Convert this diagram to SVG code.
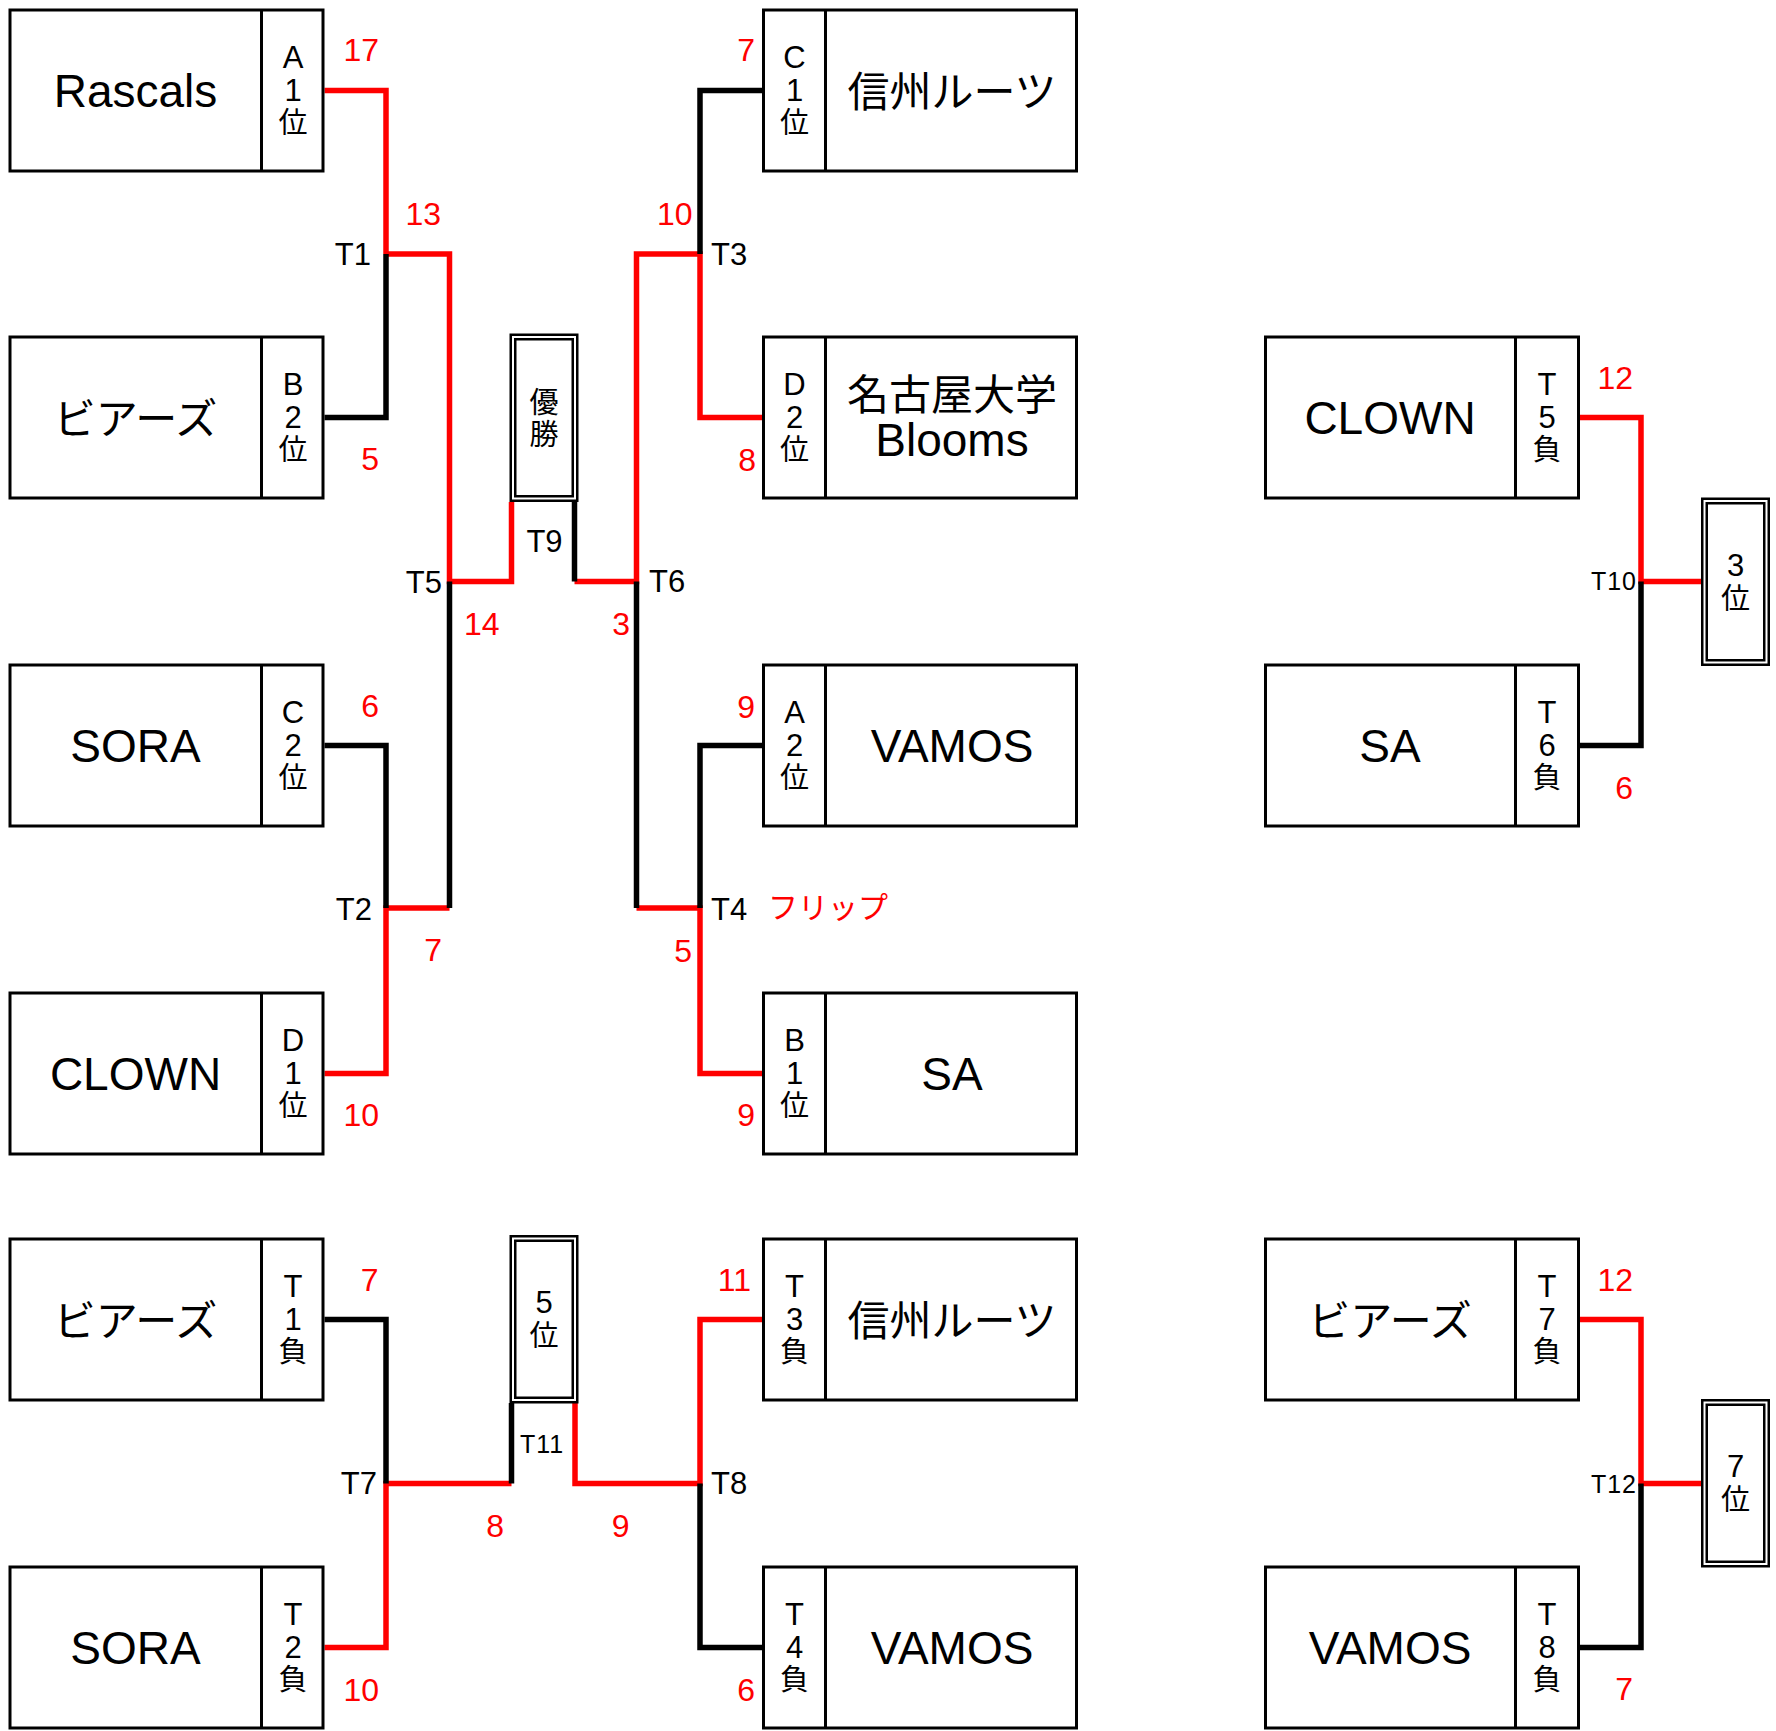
<svg xmlns="http://www.w3.org/2000/svg" width="1776" height="1731" viewBox="0 0 1776 1731">
<style>
text{font-family:"Liberation Sans","Noto Sans CJK JP",sans-serif;fill:#000}
.box{fill:#fff;stroke:#000;stroke-width:3}
.dv{stroke:#000;stroke-width:3}
.nm{font-size:46px;text-anchor:middle}
.jn{font-size:42px;text-anchor:middle;font-family:"Noto Sans CJK JP",sans-serif}
.sd{font-size:31px;text-anchor:middle}
.sj{font-size:29px;font-family:"Noto Sans CJK JP",sans-serif}
.sc{font-size:32px;fill:#f00}
.lb{font-size:31px}
.ls{font-size:25px;letter-spacing:1px}
.r{fill:none;stroke:#f00;stroke-width:5.5}
.k{fill:none;stroke:#000;stroke-width:5.5}
.fo{fill:#fff;stroke:#000;stroke-width:2.5}
.fi{fill:none;stroke:#000;stroke-width:2.5}
.e{text-anchor:end}
.m{text-anchor:middle}
</style>
<rect width="1776" height="1731" fill="#fff"/>
<g id="connectors">
<polyline class="r" points="324.5,90.5 386,90.5 386,254"/>
<polyline class="r" points="386,254 449.5,254 449.5,581.5 511.5,581.5 511.5,502"/>
<polyline class="r" points="324.5,1073.5 386,1073.5 386,908 449.5,908"/>
<polyline class="r" points="574.5,581.5 636.5,581.5 636.5,254 700,254 700,417.5 762,417.5"/>
<polyline class="r" points="636.5,908 700,908 700,1073.5 762,1073.5"/>
<polyline class="r" points="324.5,1647.5 386,1647.5 386,1483.5 511.5,1483.5"/>
<polyline class="r" points="575,1403 575,1483.5 700,1483.5 700,1319.5 762,1319.5"/>
<polyline class="r" points="1579,417.5 1641,417.5 1641,581.5 1701,581.5"/>
<polyline class="r" points="1579,1319.5 1641,1319.5 1641,1483.5 1701,1483.5"/>
<polyline class="k" points="324.5,417.5 386,417.5 386,254"/>
<polyline class="k" points="324.5,745.5 386,745.5 386,908"/>
<polyline class="k" points="449.5,908 449.5,581.5"/>
<polyline class="k" points="574.5,502 574.5,581.5"/>
<polyline class="k" points="636.5,581.5 636.5,908"/>
<polyline class="k" points="762,90.5 700,90.5 700,254"/>
<polyline class="k" points="762,745.5 700,745.5 700,908"/>
<polyline class="k" points="324.5,1319.5 386,1319.5 386,1483.5"/>
<polyline class="k" points="511.5,1483.5 511.5,1403"/>
<polyline class="k" points="700,1483.5 700,1647.5 762,1647.5"/>
<polyline class="k" points="1579,745.5 1641,745.5 1641,581.5"/>
<polyline class="k" points="1579,1647.5 1641,1647.5 1641,1483.5"/>
</g>
<g id="labels">
<text class="sc e" x="379" y="61">17</text>
<text class="sc e" x="441" y="224.5">13</text>
<text class="lb e" x="371" y="265">T1</text>
<text class="sc e" x="379" y="470">5</text>
<text class="lb e" x="442" y="593">T5</text>
<text class="sc" x="464" y="634.5">14</text>
<text class="lb m" x="544.5" y="552">T9</text>
<text class="sc e" x="630" y="634.5">3</text>
<text class="lb" x="649" y="592">T6</text>
<text class="sc e" x="379" y="716.5">6</text>
<text class="lb e" x="372" y="919.5">T2</text>
<text class="sc e" x="442" y="960.5">7</text>
<text class="sc e" x="379" y="1126">10</text>
<text class="sc e" x="755" y="61">7</text>
<text class="sc e" x="692.5" y="225">10</text>
<text class="lb" x="711" y="265">T3</text>
<text class="sc e" x="756" y="471">8</text>
<text class="sc e" x="755" y="717.5">9</text>
<text class="lb" x="711" y="920">T4</text>
<text x="768" y="918" style="font-size:30px;fill:#f00;font-family:'Noto Sans CJK JP',sans-serif">フリップ</text>
<text class="sc e" x="692" y="961.5">5</text>
<text class="sc e" x="755" y="1126">9</text>
<text class="sc e" x="378.5" y="1290.5">7</text>
<text class="lb e" x="377" y="1494">T7</text>
<text class="sc e" x="504" y="1536.5">8</text>
<text class="ls m" x="542" y="1452.5">T11</text>
<text class="sc e" x="629.5" y="1536.5">9</text>
<text class="lb" x="711" y="1494">T8</text>
<text class="sc e" x="751" y="1290.5">11</text>
<text class="sc e" x="379" y="1700.5">10</text>
<text class="sc e" x="755" y="1700.5">6</text>
<text class="sc e" x="1633" y="389">12</text>
<text class="ls e" x="1637" y="589.5">T10</text>
<text class="sc e" x="1633" y="799">6</text>
<text class="sc e" x="1633" y="1290.5">12</text>
<text class="ls e" x="1637" y="1492.5">T12</text>
<text class="sc e" x="1633" y="1700">7</text>
</g>
<g id="n-rascals" transform="translate(8.5,8.5)">
<rect class="box" x="1.5" y="1.5" width="313" height="161"/><line class="dv" x1="253" y1="1.5" x2="253" y2="162.5"/>
<text class="nm" x="127" y="98">Rascals</text>
<text class="sd" x="284.5" y="59.5">A<tspan x="284.5" y="92">1</tspan><tspan class="sj" x="284.5" y="124.5">位</tspan></text>
</g>
<g id="n-bears" transform="translate(8.5,335.5)">
<rect class="box" x="1.5" y="1.5" width="313" height="161"/><line class="dv" x1="253" y1="1.5" x2="253" y2="162.5"/>
<text class="jn" x="127" y="98">ビアーズ</text>
<text class="sd" x="284.5" y="59.5">B<tspan x="284.5" y="92">2</tspan><tspan class="sj" x="284.5" y="124.5">位</tspan></text>
</g>
<g id="n-sora" transform="translate(8.5,663.5)">
<rect class="box" x="1.5" y="1.5" width="313" height="161"/><line class="dv" x1="253" y1="1.5" x2="253" y2="162.5"/>
<text class="nm" x="127" y="98">SORA</text>
<text class="sd" x="284.5" y="59.5">C<tspan x="284.5" y="92">2</tspan><tspan class="sj" x="284.5" y="124.5">位</tspan></text>
</g>
<g id="n-clown" transform="translate(8.5,991.5)">
<rect class="box" x="1.5" y="1.5" width="313" height="161"/><line class="dv" x1="253" y1="1.5" x2="253" y2="162.5"/>
<text class="nm" x="127" y="98">CLOWN</text>
<text class="sd" x="284.5" y="59.5">D<tspan x="284.5" y="92">1</tspan><tspan class="sj" x="284.5" y="124.5">位</tspan></text>
</g>
<g id="n-bears-t1" transform="translate(8.5,1237.5)">
<rect class="box" x="1.5" y="1.5" width="313" height="161"/><line class="dv" x1="253" y1="1.5" x2="253" y2="162.5"/>
<text class="jn" x="127" y="98">ビアーズ</text>
<text class="sd" x="284.5" y="59.5">T<tspan x="284.5" y="92">1</tspan><tspan class="sj" x="284.5" y="124.5">負</tspan></text>
</g>
<g id="n-sora-t2" transform="translate(8.5,1565.5)">
<rect class="box" x="1.5" y="1.5" width="313" height="161"/><line class="dv" x1="253" y1="1.5" x2="253" y2="162.5"/>
<text class="nm" x="127" y="98">SORA</text>
<text class="sd" x="284.5" y="59.5">T<tspan x="284.5" y="92">2</tspan><tspan class="sj" x="284.5" y="124.5">負</tspan></text>
</g>
<g id="n-shinshu" transform="translate(762,8.5)">
<rect class="box" x="1.5" y="1.5" width="313" height="161"/><line class="dv" x1="63.5" y1="1.5" x2="63.5" y2="162.5"/>
<text class="jn" x="190" y="98">信州ルーツ</text>
<text class="sd" x="32.5" y="59.5">C<tspan x="32.5" y="92">1</tspan><tspan class="sj" x="32.5" y="124.5">位</tspan></text>
</g>
<g id="n-nagoya" transform="translate(762,335.5)">
<rect class="box" x="1.5" y="1.5" width="313" height="161"/><line class="dv" x1="63.5" y1="1.5" x2="63.5" y2="162.5"/>
<text class="jn" x="190" y="74.5">名古屋大学<tspan x="190" y="120.5" style="font-family:'Liberation Sans',sans-serif;font-size:46px">Blooms</tspan></text>
<text class="sd" x="32.5" y="59.5">D<tspan x="32.5" y="92">2</tspan><tspan class="sj" x="32.5" y="124.5">位</tspan></text>
</g>
<g id="n-vamos" transform="translate(762,663.5)">
<rect class="box" x="1.5" y="1.5" width="313" height="161"/><line class="dv" x1="63.5" y1="1.5" x2="63.5" y2="162.5"/>
<text class="nm" x="190" y="98">VAMOS</text>
<text class="sd" x="32.5" y="59.5">A<tspan x="32.5" y="92">2</tspan><tspan class="sj" x="32.5" y="124.5">位</tspan></text>
</g>
<g id="n-sa" transform="translate(762,991.5)">
<rect class="box" x="1.5" y="1.5" width="313" height="161"/><line class="dv" x1="63.5" y1="1.5" x2="63.5" y2="162.5"/>
<text class="nm" x="190" y="98">SA</text>
<text class="sd" x="32.5" y="59.5">B<tspan x="32.5" y="92">1</tspan><tspan class="sj" x="32.5" y="124.5">位</tspan></text>
</g>
<g id="n-shinshu-t3" transform="translate(762,1237.5)">
<rect class="box" x="1.5" y="1.5" width="313" height="161"/><line class="dv" x1="63.5" y1="1.5" x2="63.5" y2="162.5"/>
<text class="jn" x="190" y="98">信州ルーツ</text>
<text class="sd" x="32.5" y="59.5">T<tspan x="32.5" y="92">3</tspan><tspan class="sj" x="32.5" y="124.5">負</tspan></text>
</g>
<g id="n-vamos-t4" transform="translate(762,1565.5)">
<rect class="box" x="1.5" y="1.5" width="313" height="161"/><line class="dv" x1="63.5" y1="1.5" x2="63.5" y2="162.5"/>
<text class="nm" x="190" y="98">VAMOS</text>
<text class="sd" x="32.5" y="59.5">T<tspan x="32.5" y="92">4</tspan><tspan class="sj" x="32.5" y="124.5">負</tspan></text>
</g>
<g id="n-clown-t5" transform="translate(1264,335.5)">
<rect class="box" x="1.5" y="1.5" width="313" height="161"/><line class="dv" x1="251.5" y1="1.5" x2="251.5" y2="162.5"/>
<text class="nm" x="126" y="98">CLOWN</text>
<text class="sd" x="283" y="59.5">T<tspan x="283" y="92">5</tspan><tspan class="sj" x="283" y="124.5">負</tspan></text>
</g>
<g id="n-sa-t6" transform="translate(1264,663.5)">
<rect class="box" x="1.5" y="1.5" width="313" height="161"/><line class="dv" x1="251.5" y1="1.5" x2="251.5" y2="162.5"/>
<text class="nm" x="126" y="98">SA</text>
<text class="sd" x="283" y="59.5">T<tspan x="283" y="92">6</tspan><tspan class="sj" x="283" y="124.5">負</tspan></text>
</g>
<g id="n-bears-t7" transform="translate(1264,1237.5)">
<rect class="box" x="1.5" y="1.5" width="313" height="161"/><line class="dv" x1="251.5" y1="1.5" x2="251.5" y2="162.5"/>
<text class="jn" x="126" y="98">ビアーズ</text>
<text class="sd" x="283" y="59.5">T<tspan x="283" y="92">7</tspan><tspan class="sj" x="283" y="124.5">負</tspan></text>
</g>
<g id="n-vamos-t8" transform="translate(1264,1565.5)">
<rect class="box" x="1.5" y="1.5" width="313" height="161"/><line class="dv" x1="251.5" y1="1.5" x2="251.5" y2="162.5"/>
<text class="nm" x="126" y="98">VAMOS</text>
<text class="sd" x="283" y="59.5">T<tspan x="283" y="92">8</tspan><tspan class="sj" x="283" y="124.5">負</tspan></text>
</g>
<g id="f-champion" transform="translate(509.5,333.5)">
<rect class="fo" x="1.25" y="1.25" width="66.5" height="166"/><rect class="fi" x="5.75" y="5.75" width="57.5" height="157"/>
<text class="sj m" x="34.5" y="79">優<tspan x="34.5" y="111">勝</tspan></text>
</g>
<g id="f-third" transform="translate(1701,497.5)">
<rect class="fo" x="1.25" y="1.25" width="66.5" height="166"/><rect class="fi" x="5.75" y="5.75" width="57.5" height="157"/>
<text class="sd" x="34.5" y="78.5">3<tspan class="sj" x="34.5" y="111">位</tspan></text>
</g>
<g id="f-fifth" transform="translate(509.5,1235)">
<rect class="fo" x="1.25" y="1.25" width="66.5" height="166"/><rect class="fi" x="5.75" y="5.75" width="57.5" height="157"/>
<text class="sd" x="34.5" y="77.5">5<tspan class="sj" x="34.5" y="111">位</tspan></text>
</g>
<g id="f-seventh" transform="translate(1701,1399)">
<rect class="fo" x="1.25" y="1.25" width="66.5" height="166"/><rect class="fi" x="5.75" y="5.75" width="57.5" height="157"/>
<text class="sd" x="34.5" y="78">7<tspan class="sj" x="34.5" y="111">位</tspan></text>
</g>
</svg>
